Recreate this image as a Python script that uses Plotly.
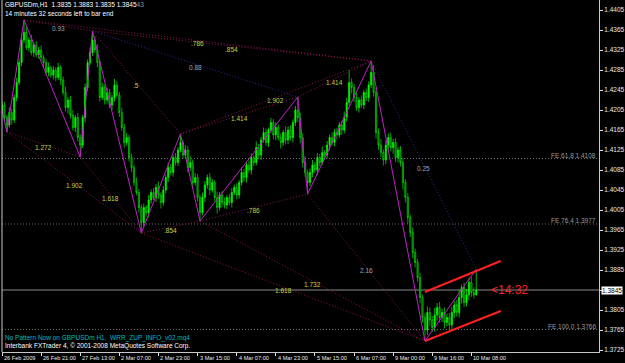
import plotly.graph_objects as go

# ---------------- data ----------------
first_open = 1.4200
closes = [
    # k0-9
    1.4215, 1.4190, 1.4175, 1.4200, 1.4185, 1.4230, 1.4260, 1.4300, 1.4345, 1.4360,
    # k10-32
    1.4330, 1.4345, 1.4320, 1.4335, 1.4315, 1.4325, 1.4310, 1.4300, 1.4280, 1.4290,
    1.4275, 1.4285, 1.4270, 1.4290, 1.4265, 1.4240, 1.4210, 1.4225, 1.4195, 1.4170,
    1.4190, 1.4150, 1.4135,
    # k33-37
    1.4190, 1.4250, 1.4300, 1.4320, 1.4345,
    # k38-57
    1.4325, 1.4300, 1.4230, 1.4250, 1.4225, 1.4240, 1.4215, 1.4230, 1.4255, 1.4235,
    1.4200, 1.4170, 1.4140, 1.4150, 1.4110, 1.4090, 1.4060, 1.4040, 1.4010, 1.3980,
    # k58-73
    1.4010, 1.4000, 1.4025, 1.4040, 1.4030, 1.4050, 1.4035, 1.4020, 1.4045, 1.4070,
    1.4090, 1.4080, 1.4110, 1.4100, 1.4125, 1.4140,
    # k74-81
    1.4115, 1.4125, 1.4090, 1.4100, 1.4060, 1.4070, 1.4030, 1.4000,
    # k82-121
    1.4030, 1.4055, 1.4070, 1.4045, 1.4060, 1.4030, 1.4010, 1.4035, 1.4020, 1.4015,
    1.4030, 1.4020, 1.4040, 1.4050, 1.4035, 1.4060, 1.4080, 1.4070, 1.4095, 1.4085,
    1.4110, 1.4100, 1.4130, 1.4115, 1.4145, 1.4160, 1.4140, 1.4165, 1.4180, 1.4155,
    1.4170, 1.4150, 1.4140, 1.4160, 1.4145, 1.4165, 1.4150, 1.4180, 1.4205, 1.4190,
    # k122-125
    1.4150, 1.4100, 1.4080, 1.4060,
    # k126-151
    1.4080, 1.4095, 1.4085, 1.4110, 1.4100, 1.4120, 1.4115, 1.4135, 1.4150, 1.4140,
    1.4160, 1.4155, 1.4175, 1.4165, 1.4190, 1.4220, 1.4260, 1.4250, 1.4230, 1.4210,
    1.4225, 1.4215, 1.4240, 1.4230, 1.4255, 1.4280,
    # k152-173
    1.4240, 1.4160, 1.4135, 1.4120, 1.4105, 1.4135, 1.4150, 1.4130, 1.4140, 1.4110,
    1.4125, 1.4100, 1.4060, 1.4030, 1.3990, 1.3960, 1.3920, 1.3900, 1.3870, 1.3830,
    1.3790, 1.3765,
    # k174-194
    1.3800, 1.3785, 1.3770, 1.3795, 1.3810, 1.3790, 1.3800, 1.3780, 1.3790, 1.3775,
    1.3800, 1.3815, 1.3800, 1.3830, 1.3850, 1.3820, 1.3835, 1.3860, 1.3840, 1.3835,
    1.3845,
]
# upper / lower wick lengths in pips
wick_up = [
    8, 6, 5, 10, 7, 6, 9, 8, 12, 25,
    12, 6, 10, 5, 8, 6, 9, 5, 7, 10, 4, 8, 6, 9, 5, 7, 12, 6, 8, 10, 5, 9, 6,
    5, 8, 6, 10, 18,
    8, 12, 5, 10, 6, 9, 7, 5, 12, 8, 6, 10, 7, 9, 6, 8, 5, 10, 7, 6,
    8, 5, 10, 6, 9, 7, 12, 5, 8, 6, 10, 7, 5, 9, 6, 17,
    6, 10, 8, 12, 6, 9, 7, 5,
    10, 8, 6, 9, 7, 5, 12, 6, 8, 10, 5, 7, 9, 6, 8, 5, 10, 7, 6, 9,
    8, 5, 12, 7, 6, 10, 8, 5, 9, 7, 10, 6, 8, 5, 12, 7, 9, 6, 8, 26,
    10, 8, 12, 6,
    8, 10, 6, 9, 7, 12, 5, 8, 6, 10, 7, 9, 6, 8, 12, 10, 25, 8, 7, 10, 6, 9, 5, 8, 7, 23,
    15, 10, 8, 12, 6, 9, 8, 10, 7, 9, 6, 8, 10, 7, 9, 6, 10, 8, 7, 9, 6, 8,
    12, 10, 8, 14, 9, 11, 7, 10, 8, 9, 12, 8, 10, 15, 6, 10, 12, 9, 11, 10, 38,
]
wick_dn = [
    6, 8, 14, 5, 9, 6, 8, 5, 7, 6,
    5, 8, 6, 9, 5, 7, 6, 10, 5, 8, 6, 9, 7, 5, 10, 6, 8, 12, 7, 6, 9, 8, 24,
    6, 10, 8, 5, 7,
    6, 10, 8, 5, 9, 7, 6, 10, 8, 5, 9, 7, 10, 6, 8, 9, 7, 6, 10, 21,
    8, 6, 10, 7, 5, 9, 8, 12, 6, 7, 9, 5, 8, 6, 7, 5,
    8, 6, 10, 7, 9, 6, 8, 17,
    6, 9, 7, 10, 5, 8, 12, 6, 9, 7, 8, 6, 10, 5, 9, 7, 6, 8, 10, 5,
    9, 7, 6, 8, 10, 5, 7, 9, 6, 8, 10, 6, 12, 7, 9, 8, 6, 10, 7, 9,
    12, 10, 8, 23,
    7, 9, 6, 10, 8, 5, 9, 7, 10, 6, 8, 9, 5, 10, 7, 8, 6, 12, 9, 7, 10, 6, 8, 7, 9, 6,
    8, 12, 10, 9, 11, 8, 10, 7, 12, 9, 10, 8, 14, 10, 12, 9, 11, 10, 8, 12, 10, 22,
    10, 12, 9, 8, 11, 10, 9, 12, 8, 10, 9, 11, 8, 10, 12, 9, 8, 10, 9, 7, 0,
]

tick_bars = [0, 16, 32, 48, 64, 80, 96, 112, 128, 144, 160, 176, 192]
tick_labels = ["26 Feb 2009", "26 Feb 21:00", "27 Feb 13:00", "2 Mar 07:00", "2 Mar 23:00",
               "3 Mar 15:00", "4 Mar 07:00", "4 Mar 23:00", "5 Mar 15:00", "6 Mar 07:00",
               "9 Mar 00:00", "9 Mar 16:00", "10 Mar 08:00"]
price_ticks = [1.3725, 1.3765, 1.3805, 1.3845, 1.3885, 1.3925, 1.3965, 1.4005, 1.4045,
               1.4085, 1.4125, 1.4165, 1.4205, 1.4245, 1.4285, 1.4325, 1.4365, 1.4405]

# zigzag pivots (bar index, price)
zz_bars = [0, 2, 9, 32, 37, 57, 73, 81, 121, 125, 151, 173, 194]
zz_prices = [1.4205, 1.4161, 1.4385, 1.4111, 1.4363, 1.3959, 1.4157, 1.3983,
             1.4231, 1.4037, 1.4303, 1.3743, 1.3887]

# pattern lines between pivots (indices into zz lists)
pat_from = [1, 2, 1, 3, 4, 4, 5, 6, 7, 8, 6, 4, 2, 9, 7, 5, 10]
pat_to = [3, 4, 5, 5, 6, 8, 7, 8, 9, 10, 10, 10, 10, 11, 11, 11, 12]
pat_labels = ["1.272", "0.93", "1.902", "1.618", ".5", "0.88", ".854", "1.414", ".786",
              "1.414", "1.902", ".854", ".786", "2.16", "1.732", "1.618", "0.25"]
pat_blue = [False, False, False, False, False, True, False, False, False,
            False, False, False, False, False, False, False, True]
pat_fib = [True, False, True, True, True, False, True, True, True,
           True, True, True, True, False, True, True, False]

fe_names = ["FE 61.8", "FE 76.4", "FE 100.0"]
fe_levels = [1.4108, 1.3977, 1.3766]

channel_bars = [173, 204]
channel_upper = [1.3841, 1.3903]
channel_lower = [1.3743, 1.3803]

last_price = 1.3845
timer_text = "<14:32"
timer_bar = 199

# ---------------- build figure ----------------
opens = [first_open] + closes[:-1]
highs = [max(o, c) + w / 10000 for o, c, w in zip(opens, closes, wick_up)]
lows = [min(o, c) - w / 10000 for o, c, w in zip(opens, closes, wick_dn)]
bars = list(range(len(closes)))

FONT = "Liberation Sans"
SMALL = 6.5
fig = go.Figure()

# FE levels (dotted gray)
for lvl in fe_levels:
    fig.add_shape(type="line", xref="paper", x0=0, x1=1, y0=lvl, y1=lvl,
                  line=dict(color="#6a6a6a", width=1, dash="1px,2px"), layer="below")
# current price line
fig.add_shape(type="line", xref="paper", x0=0, x1=1, y0=last_price, y1=last_price,
              line=dict(color="#8a8a8a", width=1), layer="below")

fig.add_trace(go.Candlestick(
    x=bars, open=opens, high=highs, low=lows, close=closes,
    increasing=dict(line=dict(color="#00ff00", width=0.7), fillcolor="#00ff00"),
    decreasing=dict(line=dict(color="#00e000", width=0.7), fillcolor="#0b3d0b"),
    whiskerwidth=0, showlegend=False, hoverinfo="skip"))

# pattern dotted lines
for blue in (False, True):
    xs, ys = [], []
    for a, b, bl in zip(pat_from, pat_to, pat_blue):
        if bl == blue:
            xs += [zz_bars[a], zz_bars[b], None]
            ys += [zz_prices[a], zz_prices[b], None]
    fig.add_trace(go.Scatter(x=xs, y=ys, mode="lines", showlegend=False, hoverinfo="skip",
                             line=dict(color="#2a2a9a" if blue else "#8c1450", width=1,
                                       dash="1px,2px")))

# zigzag
fig.add_trace(go.Scatter(x=zz_bars, y=zz_prices, mode="lines", showlegend=False,
                         hoverinfo="skip", line=dict(color="#c020c8", width=1)))

# channel
fig.add_trace(go.Scatter(x=channel_bars, y=channel_upper, mode="lines", showlegend=False,
                         hoverinfo="skip", line=dict(color="#ff2020", width=2)))
fig.add_trace(go.Scatter(x=channel_bars, y=channel_lower, mode="lines", showlegend=False,
                         hoverinfo="skip", line=dict(color="#ff2020", width=2)))

ann = []
for a, b, lab, fib in zip(pat_from, pat_to, pat_labels, pat_fib):
    ann.append(dict(x=(zz_bars[a] + zz_bars[b]) / 2, y=(zz_prices[a] + zz_prices[b]) / 2,
                    text=lab, showarrow=False, yshift=-3,
                    font=dict(family=FONT, size=SMALL, color="#c8d040" if fib else "#a0a4b4")))
for name, lvl in zip(fe_names, fe_levels):
    ann.append(dict(x=1, xref="paper", y=lvl, text=f"{name} {lvl:.4f}", showarrow=False,
                    xanchor="right", yanchor="bottom", xshift=-1, yshift=-2,
                    font=dict(family=FONT, size=SMALL, color="#9a9a9a")))
# tick labels on x axis (left aligned to ticks)
for tb, tl in zip(tick_bars, tick_labels):
    ann.append(dict(x=tb, y=0, yref="paper", text=tl, showarrow=False, xanchor="left",
                    yanchor="top", xshift=0, yshift=-1,
                    font=dict(family=FONT, size=5.6, color="#e8e8e8")))
# current price label
ann.append(dict(x=1, xref="paper", y=last_price, text=f"{last_price:.4f}", showarrow=False,
                xanchor="left", yanchor="middle", xshift=2, bgcolor="#ffffff", borderpad=0,
                font=dict(family=FONT, size=SMALL, color="#000000")))
# timer
ann.append(dict(x=timer_bar, y=last_price, text=timer_text.replace("<", "&lt;"),
                showarrow=False, xanchor="left", yanchor="middle",
                font=dict(family=FONT, size=12, color="#ff2020")))
# header texts
ann.append(dict(x=0, y=1, xref="paper", yref="paper", xanchor="left", yanchor="top",
                showarrow=False, xshift=1, yshift=1, align="left",
                text="GBPUSDm,H1  1.3835 1.3883 1.3835 1.3845<span style='color:#9a9a9a'>43</span>",
                font=dict(family=FONT, size=SMALL, color="#ffffff")))
ann.append(dict(x=0, y=1, xref="paper", yref="paper", xanchor="left", yanchor="top",
                showarrow=False, xshift=1, yshift=-8, align="left",
                text="14 minutes 32 seconds left to bar end",
                font=dict(family=FONT, size=SMALL, color="#ffffff")))
ann.append(dict(x=0, y=0, xref="paper", yref="paper", xanchor="left", yanchor="bottom",
                showarrow=False, xshift=1, yshift=8,
                text="No Pattern Now on GBPUSDm H1.  WRR_ZUP_INFO_v02.mq4",
                font=dict(family=FONT, size=SMALL, color="#00b8c0")))
ann.append(dict(x=0, y=0, xref="paper", yref="paper", xanchor="left", yanchor="bottom",
                showarrow=False, xshift=1, yshift=0,
                text="Interbank FXTrader 4, © 2001-2008 MetaQuotes Software Corp.",
                font=dict(family=FONT, size=SMALL, color="#ffffff")))

# left border
fig.add_shape(type="line", xref="paper", yref="paper", x0=0, x1=0, y0=0, y1=1,
              line=dict(color="#c8c8c8", width=1))

# the current-price box covers its own tick label
ytext = ["" if abs(p - last_price) < 1e-9 else f"{p:.4f}" for p in price_ticks]

fig.update_layout(
    width=625, height=363,
    margin=dict(l=2, r=24, t=0, b=11),
    paper_bgcolor="#000000", plot_bgcolor="#000000",
    annotations=ann,
    xaxis=dict(range=[0, 244.2], showgrid=False, zeroline=False, rangeslider=dict(visible=False),
               tickvals=tick_bars, ticktext=[""] * len(tick_bars), ticks="outside", ticklen=3,
               tickcolor="#e0e0e0", showline=True, linecolor="#c8c8c8", linewidth=1),
    yaxis=dict(range=[1.3721, 1.4425], side="right", showgrid=False, zeroline=False,
               tickvals=price_ticks, ticktext=ytext,
               ticks="outside", ticklen=3, tickcolor="#e0e0e0",
               tickfont=dict(family=FONT, size=SMALL, color="#e8e8e8"),
               showline=True, linecolor="#c8c8c8", linewidth=1),
    showlegend=False,
)

fig.write_html("out.html")
